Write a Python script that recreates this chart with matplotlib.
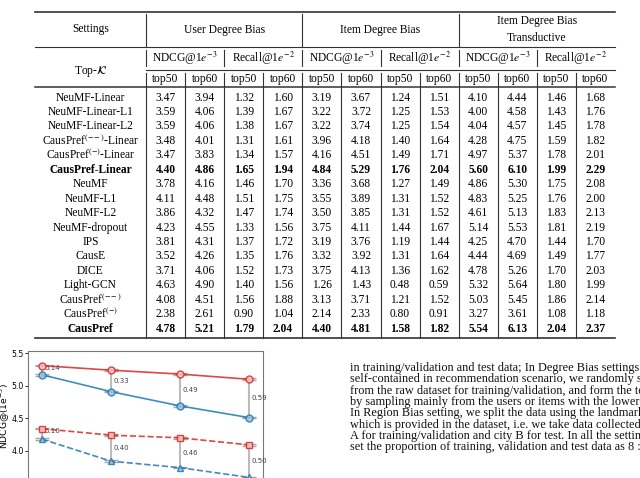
import matplotlib
matplotlib.use("Agg")
import matplotlib.pyplot as plt
import numpy as np

plt.rcParams['mathtext.fontset'] = 'stix'

# ---------------- table data ----------------
groups = ["User Degree Bias", "Item Degree Bias", "Item Degree Bias\nTransductive"]
metrics = [r"NDCG@1$e^{-3}$", r"Recall@1$e^{-2}$"]
topk = ["top50", "top60"]
methods = ["NeuMF-Linear", "NeuMF-Linear-L1", "NeuMF-Linear-L2",
           r"CausPref$^{(--)}$-Linear", r"CausPref$^{(-)}$-Linear", "CausPref-Linear",
           "NeuMF", "NeuMF-L1", "NeuMF-L2", "NeuMF-dropout", "IPS", "CausE", "DICE",
           "Light-GCN", r"CausPref$^{(--)}$", r"CausPref$^{(-)}$", "CausPref"]
bold_rows = ["CausPref-Linear", "CausPref"]
values = [
    ["3.47", "3.94", "1.32", "1.60", "3.19", "3.67", "1.24", "1.51", "4.10", "4.44", "1.46", "1.68"],
    ["3.59", "4.06", "1.39", "1.67", "3.22", "3.72", "1.25", "1.53", "4.00", "4.58", "1.43", "1.76"],
    ["3.59", "4.06", "1.38", "1.67", "3.22", "3.74", "1.25", "1.54", "4.04", "4.57", "1.45", "1.78"],
    ["3.48", "4.01", "1.31", "1.61", "3.96", "4.18", "1.40", "1.64", "4.28", "4.75", "1.59", "1.82"],
    ["3.47", "3.83", "1.34", "1.57", "4.16", "4.51", "1.49", "1.71", "4.97", "5.37", "1.78", "2.01"],
    ["4.40", "4.86", "1.65", "1.94", "4.84", "5.29", "1.76", "2.04", "5.60", "6.10", "1.99", "2.29"],
    ["3.78", "4.16", "1.46", "1.70", "3.36", "3.68", "1.27", "1.49", "4.86", "5.30", "1.75", "2.08"],
    ["4.11", "4.48", "1.51", "1.75", "3.55", "3.89", "1.31", "1.52", "4.83", "5.25", "1.76", "2.00"],
    ["3.86", "4.32", "1.47", "1.74", "3.50", "3.85", "1.31", "1.52", "4.61", "5.13", "1.83", "2.13"],
    ["4.23", "4.55", "1.33", "1.56", "3.75", "4.11", "1.44", "1.67", "5.14", "5.53", "1.81", "2.19"],
    ["3.81", "4.31", "1.37", "1.72", "3.19", "3.76", "1.19", "1.44", "4.25", "4.70", "1.44", "1.70"],
    ["3.52", "4.26", "1.35", "1.76", "3.32", "3.92", "1.31", "1.64", "4.44", "4.69", "1.49", "1.77"],
    ["3.71", "4.06", "1.52", "1.73", "3.75", "4.13", "1.36", "1.62", "4.78", "5.26", "1.70", "2.03"],
    ["4.63", "4.90", "1.40", "1.56", "1.26", "1.43", "0.48", "0.59", "5.32", "5.64", "1.80", "1.99"],
    ["4.08", "4.51", "1.56", "1.88", "3.13", "3.71", "1.21", "1.52", "5.03", "5.45", "1.86", "2.14"],
    ["2.38", "2.61", "0.90", "1.04", "2.14", "2.33", "0.80", "0.91", "3.27", "3.61", "1.08", "1.18"],
    ["4.78", "5.21", "1.79", "2.04", "4.40", "4.81", "1.58", "1.82", "5.54", "6.13", "2.04", "2.37"],
]

# ---------------- chart data ----------------
x_pts = [0, 1, 2, 3]
red_solid = [5.31, 5.24, 5.18, 5.10]
blue_solid = [5.17, 4.91, 4.69, 4.51]
red_dashed = [4.34, 4.24, 4.20, 4.09]
blue_dashed = [4.18, 3.84, 3.74, 3.59]
gap_solid = ["0.14", "0.33", "0.49", "0.59"]
gap_dashed = ["0.16", "0.40", "0.46", "0.50"]
yticks = [4.0, 4.5, 5.0, 5.5]

paragraph = [
    "in training/validation and test data; In Degree Bias settings that are",
    "self-contained in recommendation scenario, we randomly sample",
    "from the raw dataset for training/validation, and form the test set",
    "by sampling mainly from the users or items with the lower degree.",
    "In Region Bias setting, we split the data using the landmark city",
    "which is provided in the dataset, i.e. we take data collected in city",
    "A for training/validation and city B for test. In all the settings, we",
    "set the proportion of training, validation and test data as 8 : 1 : 1.",
]

W, H = 640, 478
fig = plt.figure(figsize=(6.4, 4.78), dpi=100)
ax = fig.add_axes([0, 0, 1, 1])
ax.set_xlim(0, W)
ax.set_ylim(H, 0)
ax.axis("off")

serif = "Liberation Serif"
fs = 8.3
lc = "#333333"

left, right = 35, 615
col0 = 146
ncol = 12
cw = (right - col0) / ncol
top_rule, mid_rule, cmid_rule, head_rule = 12, 47, 70, 87
row0, rh = 97.5, 14.45
bottom_rule = row0 + (len(methods) - 1) * rh + 9

ax.plot([left, right], [top_rule, top_rule], color=lc, lw=1.2)
ax.plot([left, right], [mid_rule, mid_rule], color=lc, lw=0.8)
ax.plot([col0, right], [cmid_rule, cmid_rule], color=lc, lw=0.8)
ax.plot([left, right], [head_rule, head_rule], color=lc, lw=1.1)
ax.plot([left, right], [bottom_rule, bottom_rule], color=lc, lw=1.2)

# header row 1
ax.text((left + col0) / 2, 29, "Settings", ha="center", va="center", family=serif, fontsize=fs)
for g, name in enumerate(groups):
    cx = col0 + (g * 4 + 2) * cw
    ax.text(cx, 29.5, name, ha="center", va="center", family=serif, fontsize=fs,
            linespacing=1.5)
    xb = col0 + g * 4 * cw
    ax.plot([xb, xb], [top_rule + 2, mid_rule], color=lc, lw=0.8)

# header row 2 / 3
ax.text((left + col0) / 2, 71, r"Top-$\mathcal{K}$", ha="center", va="center",
        family=serif, fontsize=fs)
for g in range(3):
    for m, mname in enumerate(metrics):
        k = g * 4 + m * 2
        ax.text(col0 + (k + 1) * cw, 58, mname, ha="center", va="center",
                family=serif, fontsize=fs)
        xb = col0 + k * cw
        ax.plot([xb, xb], [50, 66], color=lc, lw=0.8)
for k in range(ncol):
    ax.text(col0 + (k + 0.5) * cw, 79, topk[k % 2], ha="center", va="center",
            family=serif, fontsize=fs)
    xb = col0 + k * cw
    ax.plot([xb, xb], [72.5, 86], color=lc, lw=0.8)

# data rows
for k in range(ncol):
    xb = col0 + k * cw
    ax.plot([xb, xb], [head_rule, bottom_rule], color=lc, lw=0.8)
for i, (mname, row) in enumerate(zip(methods, values)):
    y = row0 + i * rh
    wt = "bold" if mname in bold_rows else "normal"
    ax.text((left + col0) / 2, y, mname, ha="center", va="center", family=serif,
            fontsize=fs, fontweight=wt)
    for k, v in enumerate(row):
        ax.text(col0 + (k + 0.5) * cw, y, v, ha="center", va="center", family=serif,
                fontsize=fs, fontweight=wt)

# paragraph
for j, line in enumerate(paragraph):
    ax.text(350, 368 + j * 11.35, line, ha="left", va="center", family=serif,
            fontsize=8.85, color="#111111")

# ---------------- chart ----------------
ytop = 5.535
ybot = 3.2
ppu = 65.0
ax_h = (ytop - ybot) * ppu
top_px = 351
cax = fig.add_axes([28 / W, (H - top_px - ax_h) / H, 235 / W, ax_h / H])
cax.set_xlim(-0.2, 3.2)
cax.set_ylim(ybot, ytop)

red = "#d62728"
blue = "#1f77b4"
for xi, r, b, lab in zip(x_pts, red_solid, blue_solid, gap_solid):
    cax.plot([xi, xi], [b, r], color="#bbbbbb", lw=1.5, zorder=1)
    cax.text(xi + 0.04, (r + b) / 2 if xi > 0 else r - 0.04, lab, fontsize=5,
             color="#444444", va="center", ha="left")
for xi, r, b, lab in zip(x_pts, red_dashed, blue_dashed, gap_dashed):
    cax.plot([xi, xi], [b, r], color="#bbbbbb", lw=1.5, zorder=1)
    cax.text(xi + 0.04, (r + b) / 2 if xi > 0 else r - 0.04, lab, fontsize=5,
             color="#444444", va="center", ha="left")

def series(yv, color, marker, ls, mfc):
    cax.errorbar(x_pts, yv, yerr=0.012, color=color, ls=ls, lw=1.2, alpha=0.85,
                 marker=marker, ms=5, mfc=mfc, mec=color, mew=1.0,
                 ecolor="#999999", elinewidth=0.8, capsize=5, zorder=3)

series(red_solid, red, "o", "-", "#f4c6c6")
series(blue_solid, blue, "o", "-", "#9ec4e0")
series(red_dashed, red, "s", "--", "#f4c6c6")
series(blue_dashed, blue, "^", "--", "#9ec4e0")

cax.set_yticks(yticks)
cax.set_yticklabels([f"{t:.1f}" for t in yticks], fontsize=5.6)
cax.set_xticks([])
cax.tick_params(axis="y", length=2.5, width=0.6, pad=0.6)
for s in cax.spines.values():
    s.set_color("#777777")
    s.set_linewidth(0.8)
cax.set_ylabel(r"NDCG@(1e$^{-3}$)", fontsize=6.6)
cax.yaxis.label.set_math_fontfamily("dejavusans")
cax.yaxis.set_label_coords((12 - 28) / 235, 0.57)

fig.savefig("out.png", dpi=100)
